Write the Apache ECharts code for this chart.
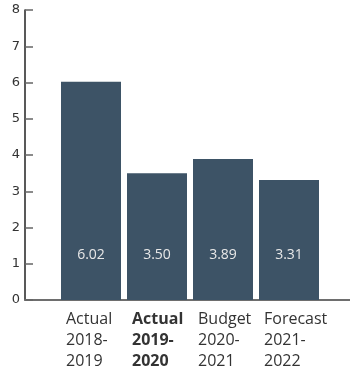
<!DOCTYPE html>
<html>
<head>
<meta charset="utf-8">
<style>
  html, body { margin: 0; padding: 0; background: #fff; overflow: hidden; width: 350px; height: 374px; }
  #chart { width: 360px; height: 374px; }
</style>
<script src="https://cdn.jsdelivr.net/npm/echarts@6/dist/echarts.min.js"></script>
</head>
<body>
<div id="chart"></div>
<script>
// Periods shown along the x axis; blank slots pad the ends of the axis
const categories = ['Actual\n2018-\n2019', 'Actual\n2019-\n2020', 'Budget\n2020-\n2021', 'Forecast\n2021-\n2022'];
const values = [6.02, 3.50, 3.89, 3.31];
const yTicks = [0, 1, 2, 3, 4, 5, 6, 7, 8];
const boldCategory = 1;

const axisData = [''].concat(categories, ['']);
const seriesData = [null].concat(values, [null]);

const labelFont = { fontFamily: 'Open Sans', fontSize: 16, lineHeight: 21, color: '#333', align: 'left' };

const chart = echarts.init(document.getElementById('chart'), null, { renderer: 'canvas' });
chart.setOption({
  animation: false,
  grid: { left: 25, right: 5, top: 10, bottom: 74, containLabel: false },
  xAxis: {
    type: 'category',
    data: axisData,
    boundaryGap: false,
    axisLine: { lineStyle: { color: '#6e6e6e', width: 2 } },
    axisTick: { show: false },
    axisLabel: {
      interval: 0,
      margin: 9,
      align: 'center',
      width: 50,
      overflow: 'none',
      formatter: function (v, idx) {
        if (!v) return '';
        const style = idx - 1 === boldCategory ? 'b' : 'n';
        return v.split('\n').map(function (line) { return '{' + style + '|' + line + '}'; }).join('\n');
      },
      rich: {
        n: labelFont,
        b: Object.assign({}, labelFont, { fontWeight: 'bold' })
      }
    }
  },
  yAxis: {
    type: 'value',
    min: yTicks[0],
    max: yTicks[yTicks.length - 1],
    interval: 1,
    splitLine: { show: false },
    axisLine: { show: true, lineStyle: { color: '#222', width: 1.5 } },
    axisTick: { show: true, inside: true, length: 8, lineStyle: { color: '#666', width: 1.5 } },
    axisLabel: { margin: 5, fontFamily: 'DejaVu Sans', fontSize: 13, color: '#333' }
  },
  series: [{
    type: 'bar',
    data: seriesData,
    barWidth: 60,
    itemStyle: { color: '#3d5366' },
    label: {
      show: true,
      position: 'insideBottom',
      distance: 38,
      color: '#e8e8e8',
      fontFamily: 'Open Sans',
      fontSize: 14,
      formatter: function (p) { return p.value == null ? '' : p.value.toFixed(2); }
    }
  }]
});
</script>
</body>
</html>
